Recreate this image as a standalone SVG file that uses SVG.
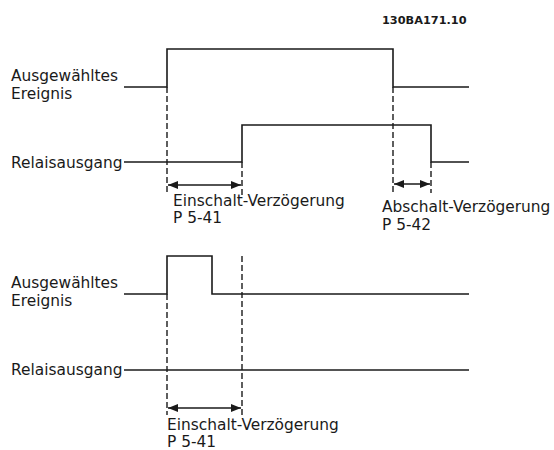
<svg xmlns="http://www.w3.org/2000/svg" width="554" height="450" viewBox="0 0 554 450">
<defs>
<style>
.sig{fill:none;stroke:#1a1a1a;stroke-width:1.6}
.dash{fill:none;stroke:#1a1a1a;stroke-width:1.4;stroke-dasharray:6,3}
.dim{fill:none;stroke:#1a1a1a;stroke-width:1.6;marker-start:url(#ah);marker-end:url(#ah)}
text{font-family:"DejaVu Sans",Verdana,sans-serif;font-size:15.4px;fill:#1a1a1a}
.code{font-size:11.3px;font-weight:bold}
</style>
<marker id="ah" viewBox="0 0 10 8" refX="10" refY="4" markerWidth="10" markerHeight="8" markerUnits="userSpaceOnUse" orient="auto-start-reverse">
<path d="M0,0 L10,4 L0,8 Z" fill="#1a1a1a"/>
</marker>
</defs>
<text class="code" x="382" y="24">130BA171.10</text>
<g id="labels-top">
<text x="11" y="81">Ausgewähltes</text>
<text x="11" y="99">Ereignis</text>
<text x="11" y="168">Relaisausgang</text>
</g>
<g id="labels-bottom">
<text x="11" y="288">Ausgewähltes</text>
<text x="11" y="306">Ereignis</text>
<text x="11" y="375">Relaisausgang</text>
</g>
<g id="signals">
<path id="event-top" class="sig" d="M124,87 H167 V49 H393 V87 H469"/>
<path id="relay-top" class="sig" d="M124,162 H242 V125 H431 V162 H469"/>
<path id="event-bottom" class="sig" d="M124,294 H167 V256 H212 V294 H469"/>
<path id="relay-bottom" class="sig" d="M124,370 H469"/>
</g>
<g id="connectors">
<path class="dash" d="M167,87 V195 M242,162 V195 M393,87 V193 M431,162 V193"/>
<path class="dash" d="M167,294 V415 M242,256 V415"/>
<path class="dim" d="M168,185 H241"/>
<path class="dim" d="M394,184 H430"/>
<path class="dim" d="M168,408 H241"/>
</g>
<g id="dim-labels">
<text x="173" y="206">Einschalt-Verzögerung</text>
<text x="173" y="223">P 5-41</text>
<text x="382" y="212">Abschalt-Verzögerung</text>
<text x="382" y="230">P 5-42</text>
<text x="167" y="430">Einschalt-Verzögerung</text>
<text x="167" y="447">P 5-41</text>
</g>
</svg>
